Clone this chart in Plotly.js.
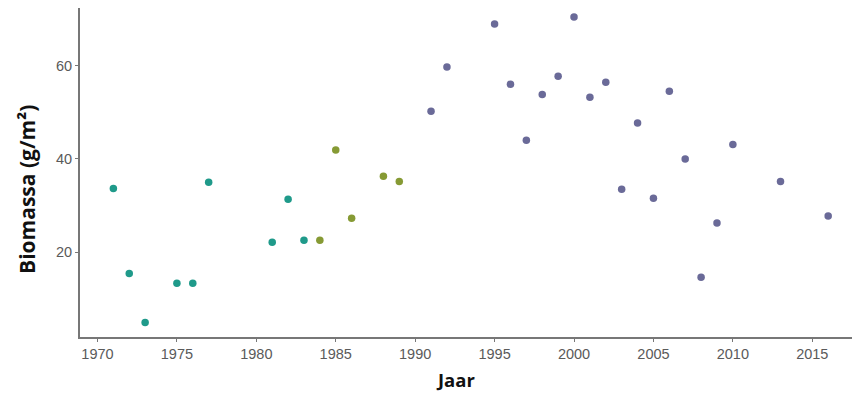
<!DOCTYPE html>
<html>
<head>
<meta charset="utf-8">
<script src="https://cdn.plot.ly/plotly-3.0.1.min.js"></script>
<style>html,body{margin:0;padding:0;background:#fff;}#chart{width:854px;height:397px;}</style>
</head>
<body>
<div id="chart"></div>
<script>
const yearsA = [1971, 1972, 1973, 1975, 1976, 1977, 1981, 1982, 1983];
const valuesA = [33.7, 15.5, 5.0, 13.4, 13.4, 35.0, 22.2, 31.4, 22.6];
const yearsB = [1984, 1985, 1986, 1988, 1989];
const valuesB = [22.6, 41.9, 27.3, 36.3, 35.2];
const yearsC = [1991, 1992, 1995, 1996, 1997, 1998, 1999, 2000, 2001, 2002, 2003, 2004, 2005, 2006, 2007, 2008, 2009, 2010, 2013, 2016];
const valuesC = [50.2, 59.7, 68.9, 56.0, 44.0, 53.8, 57.7, 70.4, 53.2, 56.4, 33.5, 47.7, 31.6, 54.5, 40.0, 14.7, 26.3, 43.1, 35.2, 27.8];
const xTicks = [1970, 1975, 1980, 1985, 1990, 1995, 2000, 2005, 2010, 2015];
const yTicks = [20, 40, 60];

function series(x, y, color) {
  return {x: x, y: y, type: 'scatter', mode: 'markers',
    marker: {color: color, size: 7.5}, showlegend: false, hoverinfo: 'x+y'};
}
const data = [
  series(yearsA, valuesA, '#1f9a8a'),
  series(yearsB, valuesB, '#869a34'),
  series(yearsC, valuesC, '#6a6a98')
];
const tickFont = {family: 'Liberation Sans, Arial, sans-serif', size: 14.5, color: '#5a5a5a'};
const titleFont = {family: 'Open Sans, sans-serif', size: 18.5, color: '#111', weight: 700};
const yTitleFont = {family: 'Open Sans, sans-serif', size: 21, color: '#111', weight: 700};
const layout = {
  width: 854, height: 397,
  margin: {l: 80, r: 2, t: 8, b: 60},
  paper_bgcolor: '#fff', plot_bgcolor: '#fff',
  xaxis: {
    range: [1968.9, 2017.5], tickvals: xTicks, ticktext: xTicks.map(String),
    showgrid: false, zeroline: false, showline: true, linecolor: '#777', linewidth: 2,
    ticks: 'outside', ticklen: 3, tickcolor: '#777', tickfont: tickFont
  },
  yaxis: {
    range: [1.9, 72.3], tickvals: yTicks, ticktext: yTicks.map(String),
    showgrid: false, zeroline: false, showline: true, linecolor: '#777', linewidth: 2,
    ticks: 'outside', ticklen: 3, tickcolor: '#777', tickfont: tickFont
  },
  annotations: [
    {text: 'Jaar', xref: 'paper', yref: 'paper', x: 0.487, y: 0, yshift: -29, borderpad: 0,
     xanchor: 'center', yanchor: 'top', showarrow: false, font: titleFont},
    {text: 'Biomassa (g/m²)', xref: 'paper', yref: 'paper', x: 0, xshift: -53, y: 0.447,
     xanchor: 'center', yanchor: 'middle', textangle: -90, showarrow: false, font: yTitleFont}
  ]
};
Plotly.newPlot('chart', data, layout, {displayModeBar: false, staticPlot: true});
</script>
</body>
</html>
